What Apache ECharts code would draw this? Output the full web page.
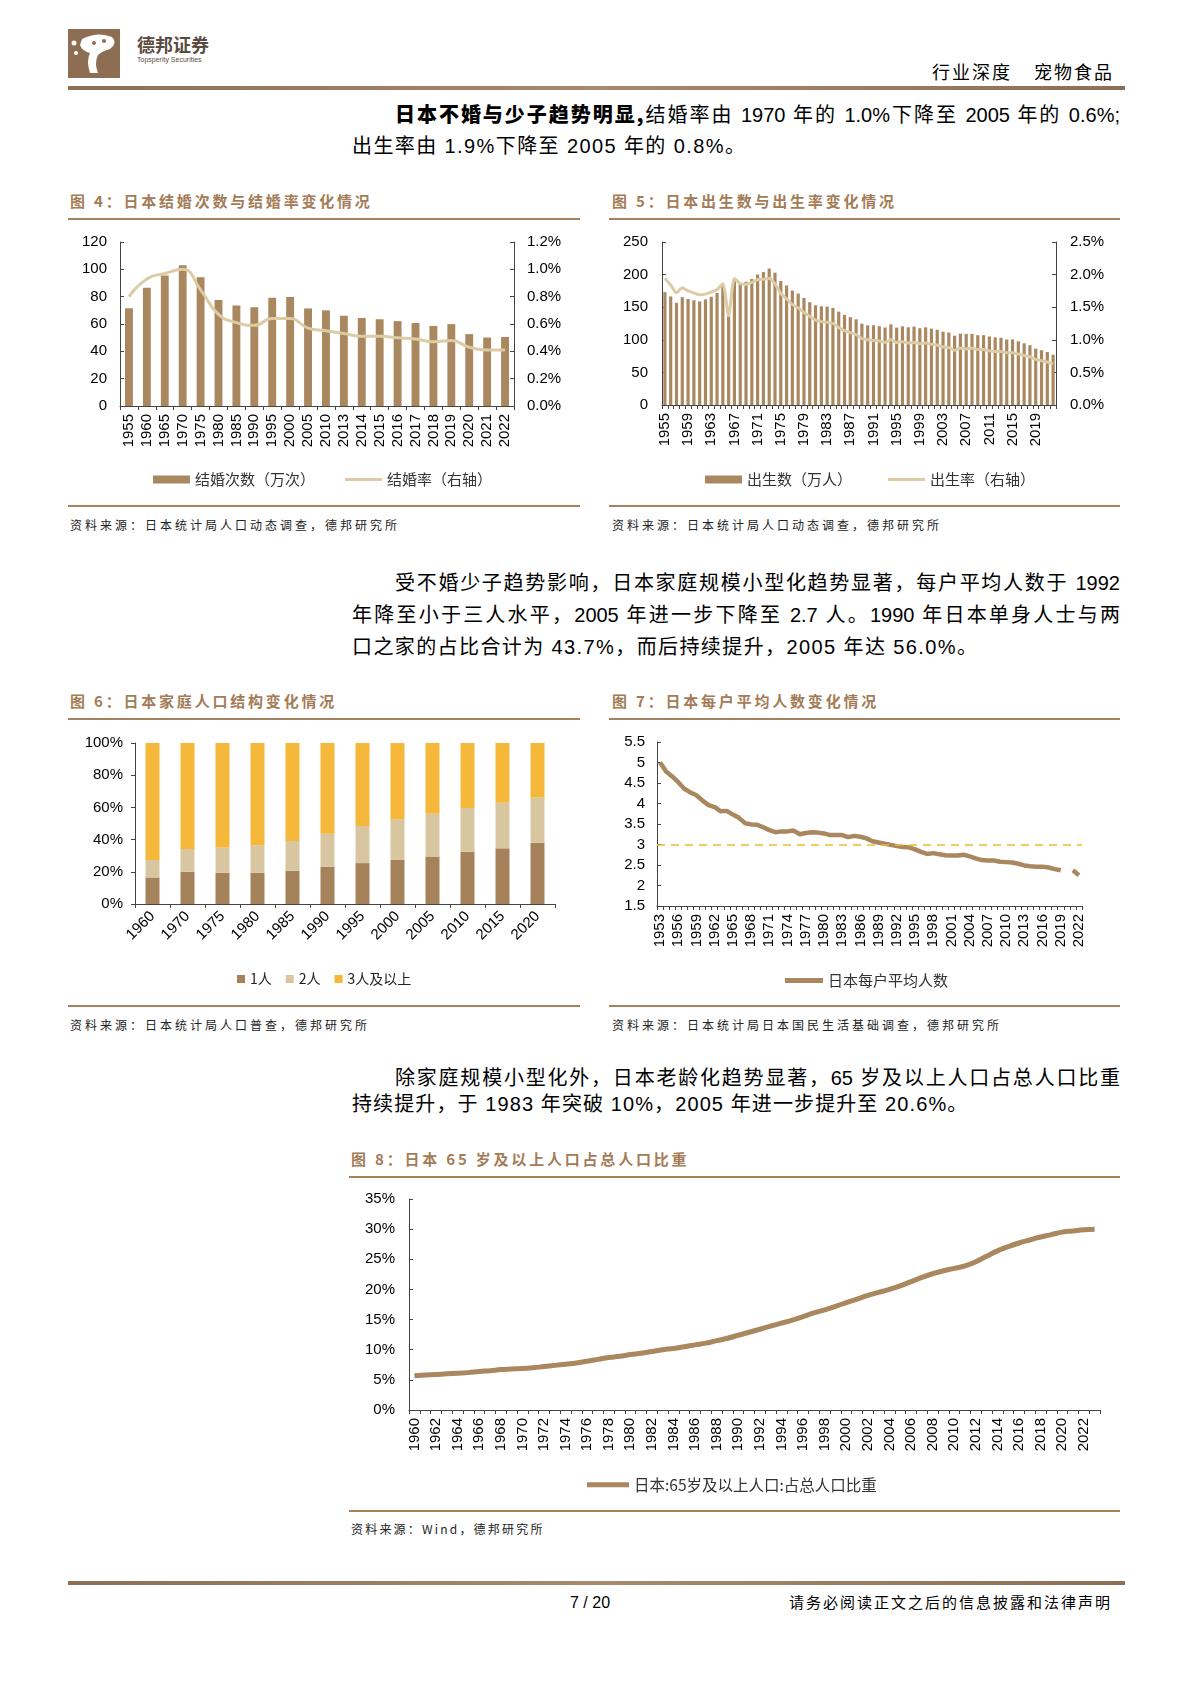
<!DOCTYPE html>
<html><head><meta charset="utf-8">
<script src="https://cdn.jsdelivr.net/npm/echarts@6/dist/echarts.min.js"></script>
<style>
body{margin:0;background:#fff;}
#page{position:relative;width:1190px;height:1684px;overflow:hidden;background:#fff;font-family:"Liberation Sans Narrow","Liberation Sans","Noto Sans CJK SC",sans-serif;color:#000;}
.rule{position:absolute;height:2px;background:#a5825f;}
.ttl{position:absolute;font-family:"Noto Sans CJK SC",sans-serif;font-weight:700;font-size:15px;line-height:20px;color:#a37c57;letter-spacing:2.8px;white-space:nowrap;}
.src{position:absolute;font-family:"Noto Sans CJK SC",sans-serif;font-size:12px;line-height:16px;letter-spacing:3px;color:#222;white-space:nowrap;}
.pl{position:absolute;font-size:20px;line-height:24px;white-space:nowrap;letter-spacing:1.4px;}
.just{text-align:justify;text-align-last:justify;white-space:normal;height:24px;overflow:hidden;letter-spacing:0;}
.chart{position:absolute;}
</style></head>
<body><div id="page">
<!-- logo -->
<svg style="position:absolute;left:68px;top:29px" width="52" height="49" viewBox="0 0 52 49">
<rect x="0" y="0" width="52" height="49" fill="#8d6e52"/>
<path d="M14 10 Q30 2 44 8 Q50 14 42 20 Q34 22 30 26 Q26 34 30 44 L22 44 Q18 32 22 24 Q14 22 12 16 Z" fill="#fff"/>
<circle cx="6" cy="14" r="2.5" fill="#fff"/><circle cx="8" cy="24" r="2" fill="#fff"/>
<circle cx="36" cy="12" r="2" fill="#8d6e52"/><circle cx="26" cy="14" r="2" fill="#8d6e52"/>
</svg>
<div style="position:absolute;left:137px;top:33px;font-family:'Noto Sans CJK SC';font-weight:700;font-size:18px;line-height:22px;color:#5b4b40;">德邦证券</div>
<div style="position:absolute;left:137px;top:55px;font-family:'Liberation Sans';font-size:7px;line-height:9px;color:#5b4b40;">Topsperity Securities</div>
<div style="position:absolute;right:76px;top:60px;font-family:'Noto Sans CJK SC';font-size:18px;line-height:22px;letter-spacing:2px;">行业深度<span style="display:inline-block;width:22px;"></span>宠物食品</div>
<div style="position:absolute;left:68px;top:86px;width:1057px;height:4px;background:linear-gradient(90deg,#8e6e54,#a88a6c,#8e6e54);"></div>

<!-- paragraph 1 -->
<div class="pl just" style="left:395px;top:102px;width:725px;"><b style="font-family:'Noto Sans CJK SC';font-weight:900;">日本不婚与少子趋势明显,</b>结婚率由 1970 年的 1.0%下降至 2005 年的 0.6%;</div>
<div class="pl" style="left:352px;top:134px;">出生率由 1.9%下降至 2005 年的 0.8%。</div>

<!-- fig 4/5 titles -->
<div class="ttl" style="left:70px;top:191px;">图 4：日本结婚次数与结婚率变化情况</div>
<div class="rule" style="left:68px;top:218px;width:512px;"></div>
<div class="ttl" style="left:612px;top:191px;">图 5：日本出生数与出生率变化情况</div>
<div class="rule" style="left:609px;top:218px;width:511px;"></div>
<div id="c4" class="chart" style="left:60px;top:225px;width:530px;height:270px;"></div>
<div id="c5" class="chart" style="left:600px;top:225px;width:530px;height:270px;"></div>
<div class="rule" style="left:68px;top:505px;width:512px;"></div>
<div class="rule" style="left:609px;top:505px;width:511px;"></div>
<div class="src" style="left:70px;top:517px;">资料来源：日本统计局人口动态调查，德邦研究所</div>
<div class="src" style="left:612px;top:517px;">资料来源：日本统计局人口动态调查，德邦研究所</div>

<!-- paragraph 2 -->
<div class="pl just" style="left:395px;top:571px;width:725px;">受不婚少子趋势影响，日本家庭规模小型化趋势显著，每户平均人数于 1992</div>
<div class="pl just" style="left:352px;top:603px;width:768px;">年降至小于三人水平，2005 年进一步下降至 2.7 人。1990 年日本单身人士与两</div>
<div class="pl" style="left:352px;top:635px;">口之家的占比合计为 43.7%，而后持续提升，2005 年达 56.0%。</div>

<!-- fig 6/7 -->
<div class="ttl" style="left:70px;top:691px;">图 6：日本家庭人口结构变化情况</div>
<div class="rule" style="left:68px;top:718px;width:512px;"></div>
<div class="ttl" style="left:612px;top:691px;">图 7：日本每户平均人数变化情况</div>
<div class="rule" style="left:609px;top:718px;width:511px;"></div>
<div id="c6" class="chart" style="left:60px;top:725px;width:530px;height:270px;"></div>
<div id="c7" class="chart" style="left:600px;top:725px;width:530px;height:270px;"></div>
<div class="rule" style="left:68px;top:1005px;width:512px;"></div>
<div class="rule" style="left:609px;top:1005px;width:511px;"></div>
<div class="src" style="left:70px;top:1017px;">资料来源：日本统计局人口普查，德邦研究所</div>
<div class="src" style="left:612px;top:1017px;">资料来源：日本统计局日本国民生活基础调查，德邦研究所</div>

<!-- paragraph 3 -->
<div class="pl just" style="left:395px;top:1066px;width:725px;">除家庭规模小型化外，日本老龄化趋势显著，65 岁及以上人口占总人口比重</div>
<div class="pl" style="left:352px;top:1092px;letter-spacing:1.1px;">持续提升，于 1983 年突破 10%，2005 年进一步提升至 20.6%。</div>

<!-- fig 8 -->
<div class="ttl" style="left:351px;top:1149px;">图 8：日本 65 岁及以上人口占总人口比重</div>
<div class="rule" style="left:349px;top:1176px;width:771px;"></div>
<div id="c8" class="chart" style="left:340px;top:1180px;width:790px;height:322px;"></div>
<div class="rule" style="left:349px;top:1510px;width:771px;"></div>
<div class="src" style="left:351px;top:1521px;letter-spacing:2.2px;">资料来源：Wind，德邦研究所</div>

<!-- footer -->
<div style="position:absolute;left:68px;top:1581px;width:1057px;height:4px;background:linear-gradient(90deg,#8e6e54,#a88a6c,#8e6e54);"></div>
<div style="position:absolute;left:570px;top:1593px;font-size:16px;line-height:20px;">7 / 20</div>
<div style="position:absolute;right:78px;top:1592px;font-family:'Noto Sans CJK SC';font-size:15px;line-height:20px;letter-spacing:2px;">请务必阅读正文之后的信息披露和法律声明</div>
</div>
<script>
// ---------- data ----------
const marriageYears = ['1955','1960','1965','1970','1975','1980','1985','1990','1995','2000','2005','2010','2013','2014','2015','2016','2017','2018','2019','2020','2021','2022'];
const marriageCount = [71.5,86.6,95.5,102.9,94.2,77.5,73.6,72.2,79.2,79.8,71.4,70.0,66.1,64.4,63.5,62.1,60.7,58.6,59.9,52.6,50.1,50.5];
const marriageRate = [0.80,0.93,0.97,1.00,0.85,0.67,0.61,0.59,0.64,0.64,0.57,0.55,0.53,0.51,0.51,0.50,0.49,0.47,0.48,0.43,0.41,0.41];

const birthYears = ['1955','1956','1957','1958','1959','1960','1961','1962','1963','1964','1965','1966','1967','1968','1969','1970','1971','1972','1973','1974','1975','1976','1977','1978','1979','1980','1981','1982','1983','1984','1985','1986','1987','1988','1989','1990','1991','1992','1993','1994','1995','1996','1997','1998','1999','2000','2001','2002','2003','2004','2005','2006','2007','2008','2009','2010','2011','2012','2013','2014','2015','2016','2017','2018','2019','2020','2021','2022'];
const birthCount = [173.1,166.5,156.7,165.3,162.6,160.6,158.9,161.9,166.0,171.7,182.4,136.1,193.5,187.2,188.9,193.4,200.1,203.9,209.2,203.0,190.1,183.3,175.5,170.9,164.3,157.7,152.9,151.5,150.9,149.0,143.2,138.3,134.7,131.4,124.7,122.2,122.3,120.9,118.8,123.8,118.7,120.7,119.2,120.3,117.8,119.1,117.1,115.4,112.4,111.1,106.3,109.3,109.0,109.1,107.0,107.1,105.1,103.7,103.0,100.4,100.6,97.7,94.6,91.8,86.5,84.1,81.2,77.1];
const birthRate = [1.94,1.84,1.72,1.80,1.75,1.72,1.69,1.70,1.73,1.77,1.86,1.37,1.94,1.86,1.85,1.88,1.92,1.93,1.94,1.86,1.71,1.63,1.54,1.49,1.42,1.36,1.30,1.28,1.27,1.25,1.19,1.14,1.11,1.08,1.02,1.00,0.99,0.98,0.96,1.00,0.96,0.97,0.95,0.96,0.94,0.95,0.93,0.92,0.89,0.88,0.84,0.87,0.86,0.87,0.85,0.85,0.83,0.82,0.82,0.80,0.80,0.78,0.76,0.74,0.70,0.68,0.66,0.63];

const householdYears = ['1960','1970','1975','1980','1985','1990','1995','2000','2005','2010','2015','2020'];
const onePerson = [16.5,20.0,19.4,19.4,20.6,23.1,25.4,27.6,29.5,32.4,34.6,38.0];
const twoPerson = [10.9,14.2,15.7,17.1,18.6,20.6,23.1,25.1,26.5,27.2,28.3,28.1];
const threePlus = [72.6,65.8,64.9,63.5,60.8,56.3,51.5,47.3,44.0,40.4,37.1,33.9];

const avgYears = ['1953','1954','1955','1956','1957','1958','1959','1960','1961','1962','1963','1964','1965','1966','1967','1968','1969','1970','1971','1972','1973','1974','1975','1976','1977','1978','1979','1980','1981','1982','1983','1984','1985','1986','1987','1988','1989','1990','1991','1992','1993','1994','1995','1996','1997','1998','1999','2000','2001','2002','2003','2004','2005','2006','2007','2008','2009','2010','2011','2012','2013','2014','2015','2016','2017','2018','2019','2020','2021','2022'];
const avgSize = [5.00,4.78,4.66,4.52,4.36,4.27,4.20,4.07,3.96,3.91,3.81,3.82,3.73,3.65,3.52,3.49,3.48,3.42,3.35,3.30,3.32,3.32,3.34,3.25,3.28,3.30,3.29,3.27,3.23,3.23,3.23,3.18,3.21,3.19,3.15,3.08,3.05,3.02,2.99,2.96,2.94,2.93,2.88,2.82,2.77,2.79,2.76,2.74,2.73,2.73,2.75,2.71,2.66,2.62,2.61,2.61,2.58,2.57,2.56,2.53,2.49,2.47,2.46,2.46,2.44,2.40,2.37,null,2.37,2.25];
const avgRefLine = 3;

const agedYears = ['1960','1961','1962','1963','1964','1965','1966','1967','1968','1969','1970','1971','1972','1973','1974','1975','1976','1977','1978','1979','1980','1981','1982','1983','1984','1985','1986','1987','1988','1989','1990','1991','1992','1993','1994','1995','1996','1997','1998','1999','2000','2001','2002','2003','2004','2005','2006','2007','2008','2009','2010','2011','2012','2013','2014','2015','2016','2017','2018','2019','2020','2021','2022','2023'];
const agedShare = [5.7,5.8,5.9,6.0,6.1,6.2,6.4,6.5,6.7,6.8,6.9,7.0,7.2,7.4,7.6,7.8,8.1,8.4,8.7,8.9,9.2,9.4,9.7,10.0,10.2,10.5,10.8,11.1,11.5,11.9,12.4,12.9,13.4,13.9,14.4,14.9,15.5,16.1,16.6,17.2,17.8,18.4,19.0,19.5,20.0,20.6,21.3,22.0,22.6,23.1,23.5,23.9,24.6,25.5,26.4,27.1,27.7,28.2,28.7,29.1,29.5,29.7,29.9,30.0];

// ---------- styles ----------
const brown = '#a9875f';
const beige = '#dccba5';
const c1 = '#a6825a', c2 = '#d8c6a1', c3 = '#f5b83a';
const axisTxt = {color:'#000',fontSize:15,fontFamily:'Liberation Sans, Arial, sans-serif'};
const axLine = {show:true,lineStyle:{color:'#444',width:1}};
const tickIn = {show:true,inside:true,length:4,lineStyle:{color:'#444'}};
const tickOut = {show:true,inside:false,length:4,lineStyle:{color:'#444'}};
const legTxt = {fontFamily:'Noto Sans CJK SC, sans-serif',fontSize:15,color:'#333'};
const noSplit = {show:false};
const thinLineIcon = 'path://M0,0 L37,0 L37,0.01 L0,0.01 Z M0,2.6 L37,2.6 L37,5.4 L0,5.4 Z M0,7.99 L37,7.99 L37,8 L0,8 Z';

function mk(id,opt){const c=echarts.init(document.getElementById(id),null,{renderer:'canvas'});opt.animation=false;c.setOption(opt);}

// Fig 4
mk('c4',{
  grid:{left:60,top:17,width:394,height:164},
  legend:{left:88,top:242,itemWidth:37,itemHeight:8,itemGap:30,textStyle:legTxt,
    data:[{name:'结婚次数（万次）',icon:'rect'},{name:'结婚率（右轴）',icon:thinLineIcon}]},
  xAxis:{type:'category',data:marriageYears,axisLine:axLine,axisTick:tickOut,
    axisLabel:Object.assign({},axisTxt,{rotate:90,margin:8,interval:0})},
  yAxis:[
    {type:'value',min:0,max:120,interval:20,axisLine:axLine,axisTick:tickIn,splitLine:noSplit,axisLabel:Object.assign({},axisTxt,{margin:13})},
    {type:'value',min:0,max:1.2,interval:0.2,position:'right',axisLine:axLine,axisTick:tickIn,splitLine:noSplit,
      axisLabel:Object.assign({},axisTxt,{margin:13,formatter:v=>v.toFixed(1)+'%'})}
  ],
  series:[
    {name:'结婚次数（万次）',type:'bar',data:marriageCount,barWidth:'44%',itemStyle:{color:brown}},
    {name:'结婚率（右轴）',type:'line',yAxisIndex:1,data:marriageRate,smooth:true,symbol:'none',lineStyle:{color:beige,width:3},itemStyle:{color:beige}}
  ]
});

// Fig 5
mk('c5',{
  grid:{left:62,top:17,width:394,height:163},
  legend:{left:100,top:242,itemWidth:37,itemHeight:8,itemGap:36,textStyle:legTxt,
    data:[{name:'出生数（万人）',icon:'rect'},{name:'出生率（右轴）',icon:thinLineIcon}]},
  xAxis:{type:'category',data:birthYears,axisLine:axLine,axisTick:Object.assign({},tickOut,{interval:0}),
    axisLabel:Object.assign({},axisTxt,{rotate:90,margin:8,interval:3})},
  yAxis:[
    {type:'value',min:0,max:250,interval:50,axisLine:axLine,axisTick:tickIn,splitLine:noSplit,axisLabel:Object.assign({},axisTxt,{margin:14})},
    {type:'value',min:0,max:2.5,interval:0.5,position:'right',axisLine:axLine,axisTick:tickIn,splitLine:noSplit,
      axisLabel:Object.assign({},axisTxt,{margin:14,formatter:v=>v.toFixed(1)+'%'})}
  ],
  series:[
    {name:'出生数（万人）',type:'bar',data:birthCount,barWidth:'55%',itemStyle:{color:brown}},
    {name:'出生率（右轴）',type:'line',yAxisIndex:1,data:birthRate,smooth:0.2,symbol:'none',lineStyle:{color:beige,width:3},itemStyle:{color:beige}}
  ]
});

// Fig 6
mk('c6',{
  grid:{left:75,top:18,width:420,height:161},
  legend:{left:172,top:242,itemWidth:8,itemHeight:8,itemGap:14,textStyle:Object.assign({},legTxt,{fontSize:14,color:'#222'}),
    data:[{name:'1人',icon:'rect'},{name:'2人',icon:'rect'},{name:'3人及以上',icon:'rect'}]},
  xAxis:{type:'category',data:householdYears,axisLine:axLine,axisTick:tickOut,
    axisLabel:Object.assign({},axisTxt,{rotate:45,margin:10,interval:0})},
  yAxis:{type:'value',min:0,max:100,interval:20,axisLine:axLine,axisTick:tickOut,splitLine:noSplit,
    axisLabel:Object.assign({},axisTxt,{margin:12,formatter:'{value}%'})},
  series:[
    {name:'1人',type:'bar',stack:'s',data:onePerson,barWidth:'40%',itemStyle:{color:c1}},
    {name:'2人',type:'bar',stack:'s',data:twoPerson,itemStyle:{color:c2}},
    {name:'3人及以上',type:'bar',stack:'s',data:threePlus,itemStyle:{color:c3}}
  ]
});

// Fig 7
mk('c7',{
  grid:{left:57,top:17,width:425,height:164},
  legend:{left:180,top:243,itemWidth:38,itemHeight:5,textStyle:legTxt,data:[{name:'日本每户平均人数',icon:'rect'}]},
  xAxis:{type:'category',data:avgYears,axisLine:axLine,axisTick:Object.assign({},tickOut,{interval:0}),
    axisLabel:Object.assign({},axisTxt,{rotate:90,margin:8,interval:2})},
  yAxis:{type:'value',min:1.5,max:5.5,interval:0.5,axisLine:axLine,axisTick:tickIn,splitLine:noSplit,
    axisLabel:Object.assign({},axisTxt,{margin:12})},
  series:[{name:'日本每户平均人数',type:'line',data:avgSize,symbol:'none',connectNulls:false,
    lineStyle:{color:brown,width:4.5},itemStyle:{color:brown},
    markLine:{silent:true,symbol:'none',label:{show:false},lineStyle:{color:'#e9bd2a',type:[8,6],width:1.5},data:[{yAxis:avgRefLine}]}}]
});

// Fig 8
mk('c8',{
  grid:{left:69,top:19,width:691,height:211},
  legend:{left:242,top:292,itemWidth:42,itemHeight:5,textStyle:Object.assign({},legTxt,{fontSize:15.5}),data:[{name:'日本:65岁及以上人口:占总人口比重',icon:'rect'}]},
  xAxis:{type:'category',data:agedYears,axisLine:axLine,axisTick:Object.assign({},tickOut,{interval:0}),
    axisLabel:Object.assign({},axisTxt,{rotate:90,margin:8,interval:1,fontSize:15})},
  yAxis:{type:'value',min:0,max:35,interval:5,axisLine:axLine,axisTick:tickIn,splitLine:noSplit,
    axisLabel:Object.assign({},axisTxt,{margin:14,formatter:'{value}%',fontSize:15})},
  series:[{name:'日本:65岁及以上人口:占总人口比重',type:'line',data:agedShare,symbol:'none',smooth:true,
    lineStyle:{color:brown,width:5},itemStyle:{color:brown}}]
});
</script>
</body></html>
